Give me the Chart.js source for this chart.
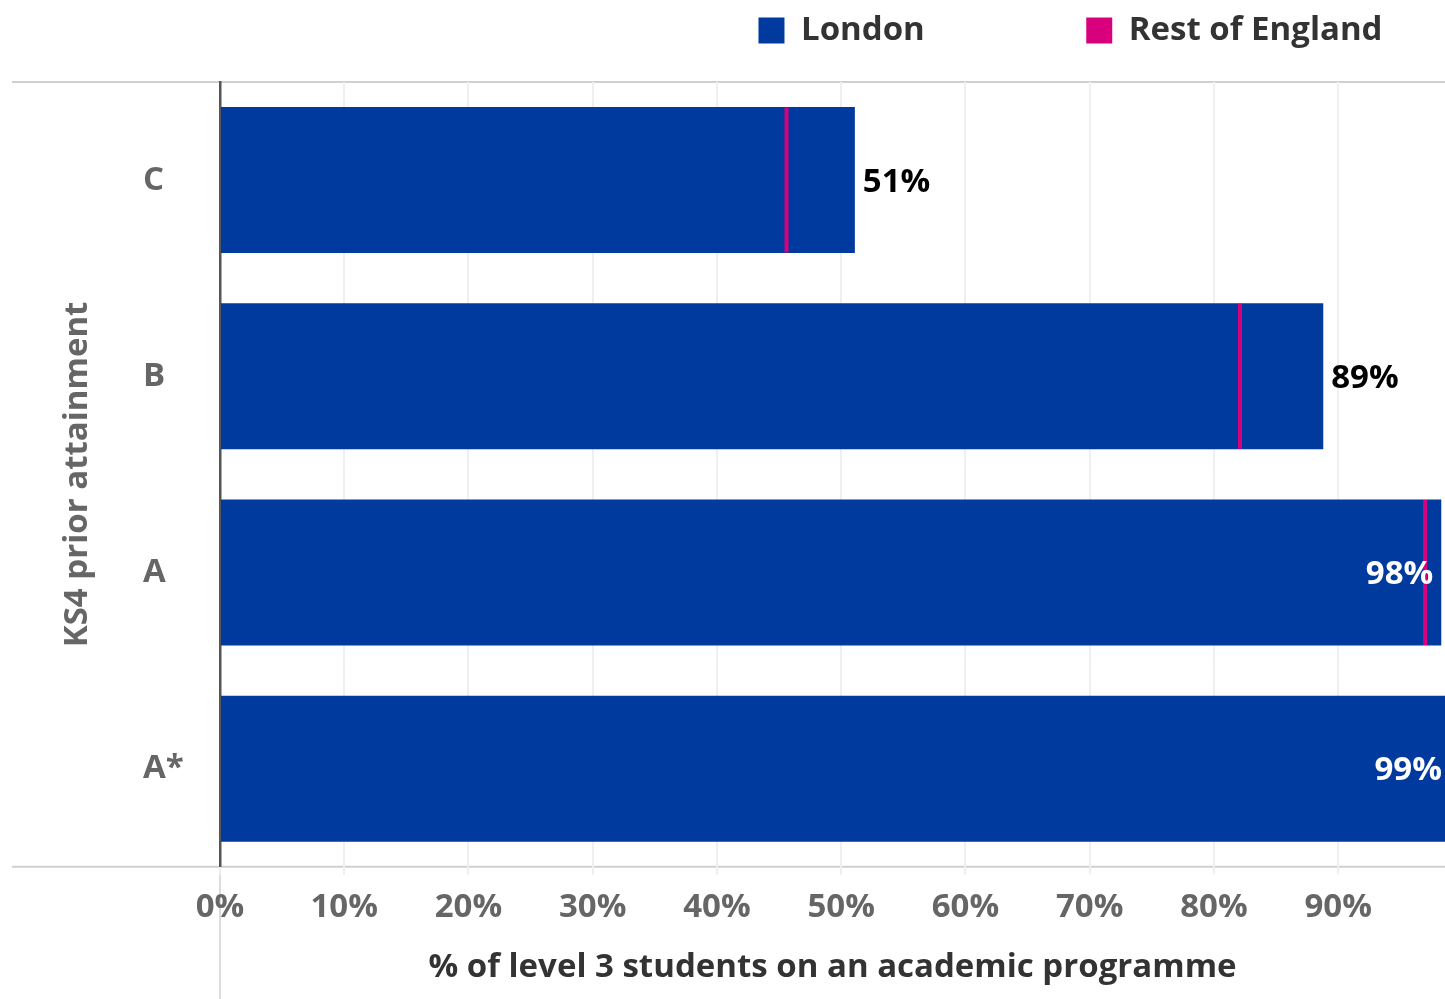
<!DOCTYPE html>
<html>
<head>
<meta charset="utf-8">
<script src="https://cdn.jsdelivr.net/npm/chart.js@4.4.1/dist/chart.umd.min.js"></script>
<style>
  html, body { margin: 0; padding: 0; background: #ffffff; }
  #wrap { width: 1445px; height: 999px; }
</style>
</head>
<body>
<div id="wrap"><canvas id="c" width="1445" height="999"></canvas></div>
<script>
// ---- data ----
const categories = ['C', 'B', 'A', 'A*'];
const londonValues = [51.1, 88.8, 98.3, 99];
const restOfEnglandValues = [45.6, 82.1, 97.0, null];
const seriesNames = ['London', 'Rest of England'];
const xTickValues = [0, 10, 20, 30, 40, 50, 60, 70, 80, 90];
const xAxisTitle = '% of level 3 students on an academic programme';
const yAxisTitle = 'KS4 prior attainment';

const BLUE = '#003a9e';
const PINK = '#d9007e';
const FONT = '"Open Sans", "Noto Sans", sans-serif';
const FS = 33;
Chart.defaults.font.family = FONT;

const framePlugin = {
  id: 'frame',
  beforeDraw(chart) {
    const {ctx, chartArea, width, height} = chart;
    ctx.save();
    ctx.fillStyle = '#ffffff';
    ctx.fillRect(0, 0, width, height);
    ctx.strokeStyle = '#d0d0d0';
    ctx.lineWidth = 2;
    ctx.beginPath();
    ctx.moveTo(12, chartArea.top); ctx.lineTo(width, chartArea.top);
    ctx.moveTo(12, chartArea.bottom); ctx.lineTo(width, chartArea.bottom);
    ctx.stroke();
    ctx.beginPath();
    ctx.lineWidth = 1.5;
    ctx.moveTo(chartArea.left, chartArea.bottom); ctx.lineTo(chartArea.left, height);
    ctx.stroke();
    ctx.restore();
  }
};

const valueLabelPlugin = {
  id: 'valueLabels',
  afterDatasetsDraw(chart) {
    const {ctx, chartArea} = chart;
    const meta = chart.getDatasetMeta(0);
    ctx.save();
    ctx.font = 'bold ' + FS + 'px ' + FONT;
    ctx.textBaseline = 'middle';
    meta.data.forEach((bar, i) => {
      const txt = Math.round(londonValues[i]) + '%';
      const w = ctx.measureText(txt).width;
      if (bar.x + 8 + w > chartArea.right) {
        ctx.fillStyle = '#ffffff';
        ctx.textAlign = 'right';
        ctx.fillText(txt, bar.x - 8, bar.y + 2);
      } else {
        ctx.fillStyle = '#000000';
        ctx.textAlign = 'left';
        ctx.fillText(txt, bar.x + 8, bar.y + 2);
      }
    });
    ctx.restore();
  }
};

new Chart(document.getElementById('c'), {
  type: 'bar',
  data: {
    labels: categories,
    datasets: [
      {
        type: 'bar',
        label: seriesNames[0],
        data: londonValues,
        backgroundColor: BLUE,
        borderWidth: 0,
        categoryPercentage: 1.0,
        barPercentage: 0.744,
        indexAxis: 'y',
        order: 2
      },
      {
        type: 'line',
        label: seriesNames[1],
        data: restOfEnglandValues,
        indexAxis: 'y',
        showLine: false,
        backgroundColor: PINK,
        borderColor: PINK,
        pointStyle: 'line',
        pointRotation: 90,
        pointRadius: 72.5,
        pointHoverRadius: 72.5,
        pointBorderWidth: 4,
        pointHoverBorderWidth: 4,
        pointBorderColor: PINK,
        pointBackgroundColor: PINK,
        order: 1
      }
    ]
  },
  options: {
    indexAxis: 'y',
    responsive: false,
    animation: false,
    layout: { autoPadding: false, padding: { top: 4, left: 0, right: 0, bottom: 0 } },
    plugins: {
      tooltip: { enabled: false },
      subtitle: {
        display: true,
        text: '',
        weight: 500,
        padding: 0,
        font: { size: 10, lineHeight: '25px' }
      },
      legend: {
        position: 'top',
        align: 'end',
        onClick: () => {},
        labels: {
          padding: 10,
          boxWidth: 26,
          boxHeight: 26,
          color: '#333333',
          font: { size: FS, weight: 'bold', family: FONT },
          generateLabels(chart) {
            const base = Chart.defaults.plugins.legend.labels.generateLabels(chart).map(l => ({
              ...l, lineWidth: 0, strokeStyle: 'rgba(0,0,0,0)', hidden: false, fontColor: '#333333'
            }));
            const byIdx = (i) => base.find(l => l.datasetIndex === i);
            const spacer = (t) => ({ text: t, fillStyle: 'rgba(0,0,0,0)', strokeStyle: 'rgba(0,0,0,0)', lineWidth: 0, hidden: false, datasetIndex: -1 });
            return [byIdx(0), spacer('\u2003\u2003\u2003'), byIdx(1), spacer('')];
          }
        }
      }
    },
    scales: {
      x: {
        type: 'linear',
        position: 'bottom',
        min: 0,
        max: 98.6,
        grid: { color: '#efefef', lineWidth: 2, tickLength: 8, drawTicks: true },
        border: { display: false },
        afterBuildTicks(scale) {
          scale.ticks = xTickValues.map(v => ({ value: v }));
        },
        ticks: {
          color: '#666666',
          padding: 13,
          font: { size: FS, weight: 'bold' },
          callback: (v) => v + '%'
        },
        title: {
          display: true,
          text: xAxisTitle,
          color: '#333333',
          font: { size: FS, weight: 'bold' },
          padding: { top: 7, bottom: 12 }
        }
      },
      y: {
        type: 'category',
        position: 'left',
        offset: true,
        grid: { display: false, drawTicks: false },
        border: { display: true, color: '#555555', width: 2.5 },
        ticks: {
          color: '#666666',
          crossAlign: 'far',
          font: { size: FS, weight: 'bold' }
        },
        afterFit(scale) { scale.width = 77; }
      },
      yTitle: {
        type: 'category',
        position: 'left',
        weight: 5,
        grid: { display: false, drawTicks: false },
        border: { display: false },
        ticks: { display: false },
        title: {
          display: true,
          text: yAxisTitle,
          color: '#666666',
          font: { size: FS, weight: 'bold' },
          padding: { top: 58, bottom: 45 }
        },
        afterFit(scale) { scale.width = 143; }
      }
    }
  },
  plugins: [framePlugin, valueLabelPlugin]
});
</script>
</body>
</html>
